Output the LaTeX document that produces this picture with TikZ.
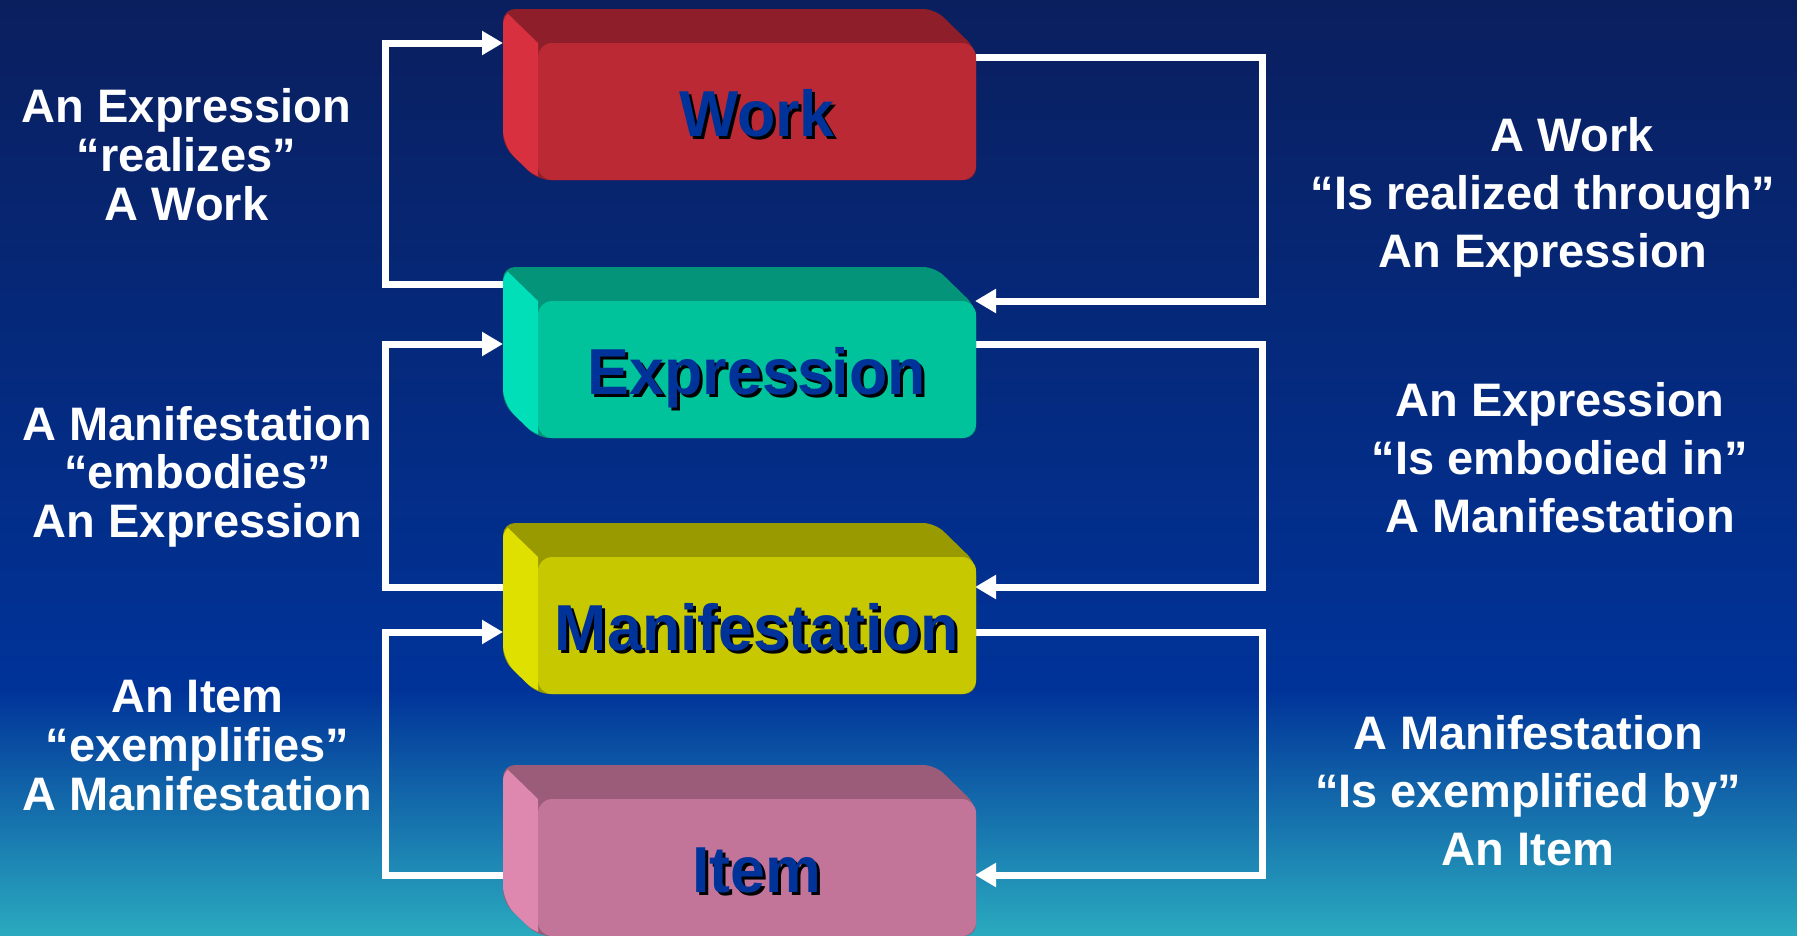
\documentclass[tikz,border=0pt]{standalone}
\usepackage{fontspec}
\setmainfont{Liberation Sans}
\newfontfamily\boxfont[FakeStretch=0.965]{Liberation Sans}
\usetikzlibrary{arrows.meta}
\definecolor{bgtop}{HTML}{0A1F5E}
\definecolor{bgmid}{HTML}{003399}
\definecolor{bgbot}{HTML}{2AAABF}
\definecolor{lblblue}{HTML}{003399}
\definecolor{wtop}{HTML}{8E1F2A}
\definecolor{wleft}{HTML}{D9303F}
\definecolor{wfront}{HTML}{BB2935}
\definecolor{etop}{HTML}{039479}
\definecolor{eleft}{HTML}{00DFB8}
\definecolor{efront}{HTML}{00C29B}
\definecolor{mtop}{HTML}{999900}
\definecolor{mleft}{HTML}{E0E000}
\definecolor{mfront}{HTML}{C8C800}
\definecolor{itop}{HTML}{9A5C78}
\definecolor{ileft}{HTML}{DE88B0}
\definecolor{ifront}{HTML}{C27499}
\newcommand\shtxt[1]{\rlap{\kern3pt\raisebox{-3pt}{\color{black}#1}}#1}
\newcommand\frbrbox[6]{%
  \fill[#2, rounded corners=12pt] (503,#1) -- (935,#1) -- (976,{#1+40}) -- (976,{#1+120}) -- (976,{#1+171}) -- (538,{#1+171}) -- (503,{#1+137}) -- cycle;
  \begin{scope}
    \clip[rounded corners=16pt] (503,#1) -- (941,#1) -- (976,{#1+34}) -- (976,{#1+171}) -- (538,{#1+171}) -- (503,{#1+137}) -- cycle;
    \fill[#3] (453,{#1-48.6}) -- (538,{#1+34}) -- (538,{#1+200}) -- (453,{#1+200}) -- cycle;
  \end{scope}
  \node[frontface, fill=#4] (#5) at (757,{#1+102.5}) {};
  \node[lbl] (#5-t) at (757,{#1+127}) {\shtxt{#6}};
}
\begin{document}
\begin{tikzpicture}[x=1pt,y=-1pt,
  frontface/.style={rectangle, minimum width=438pt, minimum height=137pt, rounded corners=14pt, inner sep=0pt, draw=none},
  lbl/.style={anchor=base, inner sep=0pt, text=lblblue, font=\boxfont\bfseries\fontsize{65}{65}\selectfont},
  conn/.style={white, line width=7pt, line join=miter},
  arr/.style={conn, -{Triangle[width=23pt,length=21pt]}},
  relL/.style={text=white, font=\bfseries\fontsize{47}{48.7}\selectfont, align=center, anchor=base, inner sep=0pt},
  relR/.style={text=white, font=\bfseries\fontsize{47}{57.7}\selectfont, align=center, anchor=base, inner sep=0pt}]
\useasboundingbox (0,0) rectangle (1797,935);
\shade[top color=bgtop, bottom color=bgmid] (0,0) rectangle (1797,690);
\shade[top color=bgmid, bottom color=bgbot] (0,689.5) rectangle (1797,935);
% ports
\coordinate (xl) at (385,0);
\coordinate (xr) at (1262,0);
\coordinate (wL) at (503,43);
\coordinate (wR) at (976,57);
\coordinate (eLo) at (503,284);
\coordinate (eRi) at (975,301);
\coordinate (eLi) at (503,344);
\coordinate (eRo) at (976,344);
\coordinate (mLo) at (503,587);
\coordinate (mRi) at (975,587);
\coordinate (mLi) at (503,632);
\coordinate (mRo) at (976,632);
\coordinate (iLo) at (503,875);
\coordinate (iRi) at (975,875);
% connectors
\draw[arr] (eLo) -- (eLo -| xl) -- (wL -| xl) -- (wL);
\draw[arr] (wR) -- (wR -| xr) -- (eRi -| xr) -- (eRi);
\draw[arr] (mLo) -- (mLo -| xl) -- (eLi -| xl) -- (eLi);
\draw[arr] (eRo) -- (eRo -| xr) -- (mRi -| xr) -- (mRi);
\draw[arr] (iLo) -- (iLo -| xl) -- (mLi -| xl) -- (mLi);
\draw[arr] (mRo) -- (mRo -| xr) -- (iRi -| xr) -- (iRi);
% boxes
\frbrbox{9}{wtop}{wleft}{wfront}{work}{Work}
\frbrbox{267}{etop}{eleft}{efront}{expr}{Expression}
\frbrbox{523}{mtop}{mleft}{mfront}{manif}{Manifestation}
\frbrbox{765}{itop}{ileft}{ifront}{item}{Item}
% relation texts (anchored at the baseline of the last line)
\node[relL] (t1) at (186.5,220) {An Expression\\“realizes”\\A Work};
\node[relL] (t2) at (197.5,537.5) {A Manifestation\\“embodies”\\An Expression};
\node[relL] (t3) at (197.5,810) {An Item\\“exemplifies”\\A Manifestation};
\node[relR] (t4) at (1543,267) {\hspace*{58pt}A Work\\“Is realized through”\\An Expression};
\node[relR] (t5) at (1560,532) {An Expression\\“Is embodied in”\\A Manifestation};
\node[relR] (t6) at (1528,865) {A Manifestation\\“Is exemplified by”\\An Item};
\end{tikzpicture}
\end{document}
